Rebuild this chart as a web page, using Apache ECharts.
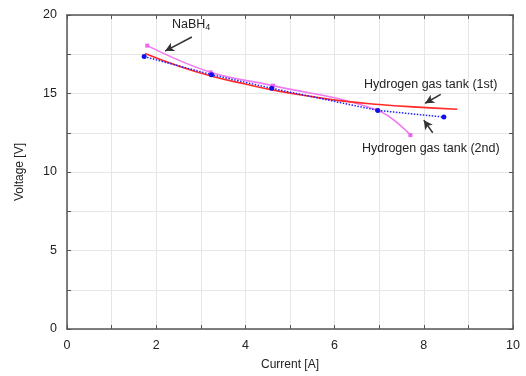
<!DOCTYPE html>
<html><head><meta charset="utf-8">
<script src="https://cdn.jsdelivr.net/npm/echarts@6/dist/echarts.min.js"></script>
<style>html,body{margin:0;padding:0;background:#fff}#c{width:526px;height:376px}</style>
</head><body><div id="c"></div>
<script>
// Data
var tank2nd_x = [1.73, 3.24, 4.59, 6.97, 8.45];
var tank2nd_y = [17.35, 16.2, 15.33, 13.92, 13.5];
var nabh4_x = [1.80, 3.22, 4.62, 6.95, 7.70];
var nabh4_y = [18.05, 16.35, 15.5, 13.95, 12.35];
var tank1st_x = [1.75, 2.5, 3.25, 4.0, 4.75, 5.5, 6.25, 7.0, 7.75, 8.75];
var tank1st_y = [17.55, 16.75, 16.1, 15.6, 15.15, 14.8, 14.5, 14.3, 14.15, 14.0];
var xTicks = [0, 2, 4, 6, 8, 10];
var yTicks = [0, 5, 10, 15, 20];

function pairs(xs, ys){ return xs.map(function(x,i){return [x, ys[i]];}); }

var FONT = '"Liberation Sans", Arial, sans-serif';
var axisCol = '#555';
var gridCol = '#e6e6e6';

var chart = echarts.init(document.getElementById('c'), null, {renderer:'canvas'});

function baseX(pos, showLabel){
  return {
    type:'value', position:pos, min:0, max:10, interval:2,
    axisLine:{show:true, onZero:false, lineStyle:{color:axisCol, width:1.5}},
    axisTick:{show:true, inside:true, length:4, lineStyle:{color:axisCol}},
    minorTick:{show:true, splitNumber:2, length:4, lineStyle:{color:axisCol}},
    splitLine:{show:showLabel, lineStyle:{color:gridCol}},
    minorSplitLine:{show:showLabel, lineStyle:{color:gridCol}},
    axisLabel:{show:showLabel, color:'#222', fontSize:12.5, fontFamily:FONT, margin:10,
      formatter:function(v){return xTicks.indexOf(v)>=0 ? String(v) : '';}},
    name: showLabel ? 'Current [A]' : '',
    nameLocation:'middle', nameGap:30,
    nameTextStyle:{color:'#222', fontSize:12, fontFamily:FONT}
  };
}
function baseY(pos, showLabel){
  return {
    type:'value', position:pos, min:0, max:20, interval:5,
    axisLine:{show:true, onZero:false, lineStyle:{color:axisCol, width:1.5}},
    axisTick:{show:true, inside:true, length:4, lineStyle:{color:axisCol}},
    minorTick:{show:true, splitNumber:2, length:4, lineStyle:{color:axisCol}},
    splitLine:{show:showLabel, lineStyle:{color:gridCol}},
    minorSplitLine:{show:showLabel, lineStyle:{color:gridCol}},
    axisLabel:{show:showLabel, color:'#222', fontSize:12.5, fontFamily:FONT, margin:10,
      formatter:function(v){return yTicks.indexOf(v)>=0 ? String(v) : '';}},
    name: showLabel ? 'Voltage [V]' : '',
    nameLocation:'middle', nameGap:41,
    nameTextStyle:{color:'#222', fontSize:12, fontFamily:FONT}
  };
}

var arrowStyle = {color:'#333', width:1.5, type:'solid'};
function arrow(a, b){ return [{coord:a}, {coord:b}]; }

chart.setOption({
  animation:false,
  grid:{left:67, right:13, top:15, bottom:43, containLabel:false},
  xAxis:[baseX('bottom', true), baseX('top', false)],
  yAxis:[baseY('left', true), baseY('right', false)],
  series:[
    {
      name:'Hydrogen gas tank (1st)', type:'line', smooth:0.5,
      data:pairs(tank1st_x, tank1st_y), showSymbol:false, symbol:'none',
      lineStyle:{color:'#ff2a2a', width:1.6}, z:3,
      markLine:{silent:true, symbol:['none','arrow'], symbolSize:[7,9],
        label:{show:false}, lineStyle:arrowStyle,
        data:[arrow([8.38,14.95],[8.03,14.38])]}
    },
    {
      name:'NaBH4', type:'line', smooth:0.4,
      data:pairs(nabh4_x, nabh4_y), symbol:'rect', symbolSize:4,
      itemStyle:{color:'#ee66ee'}, lineStyle:{color:'#f07af0', width:1.6}, z:2,
      markLine:{silent:true, symbol:['none','arrow'], symbolSize:[7,9],
        label:{show:false}, lineStyle:arrowStyle,
        data:[arrow([2.80,18.6],[2.20,17.7])]}
    },
    {
      name:'Hydrogen gas tank (2nd)', type:'line', smooth:false,
      data:pairs(tank2nd_x, tank2nd_y), symbol:'circle', symbolSize:5,
      itemStyle:{color:'#1010ee'}, lineStyle:{color:'#2222ff', width:1.5, type:'dotted'}, z:4,
      markLine:{silent:true, symbol:['none','arrow'], symbolSize:[7,9],
        label:{show:false}, lineStyle:arrowStyle,
        data:[arrow([8.2,12.5],[8.0,13.3])]}
    }
  ],
  graphic:[
    {type:'text', left:172, top:18, z:100, style:{
      text:'NaBH{s|4}', fill:'#222', font:'12.5px '+FONT,
      rich:{s:{fontSize:9, fontFamily:FONT, verticalAlign:'bottom', padding:[6,0,0,0], fill:'#222'}}
    }},
    {type:'text', left:364, top:78, z:100, style:{text:'Hydrogen gas tank (1st)', fill:'#222', font:'12.5px '+FONT}},
    {type:'text', left:362, top:142, z:100, style:{text:'Hydrogen gas tank (2nd)', fill:'#222', font:'12.5px '+FONT}}
  ]
});
</script>
</body></html>
